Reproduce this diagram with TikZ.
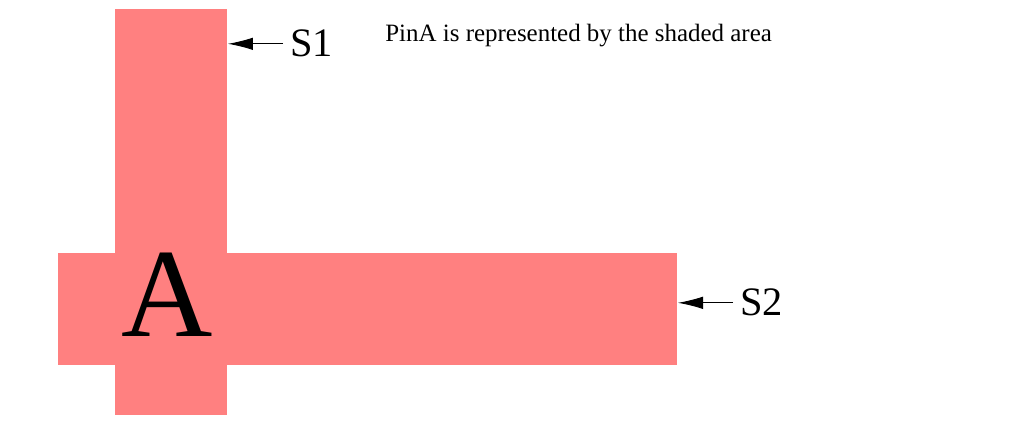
\documentclass[tikz,border=0pt]{standalone}
\usepackage{fontspec}
\setmainfont{Liberation Serif}
\usepackage{xcolor}
\usetikzlibrary{arrows.meta}
\definecolor{pinred}{HTML}{FF8080}

\begin{document}
\begin{tikzpicture}[x=0.02cm, y=-0.02cm,
  pinarea/.style={fill=pinred, draw=none},
  sidelabel/.style={anchor=base west, inner xsep=4pt, inner ysep=0pt, font=\fontsize{23}{27}\selectfont},
  pointer/.style={-{Latex[length=0.5cm, width=0.25cm]}, line width=0.5pt}]
\useasboundingbox (0,0) rectangle (1015,438);

% shaded pin area
\fill[pinarea] (115,9) rectangle (227,415);
\fill[pinarea] (58,253) rectangle (677,365);
\coordinate (vertEdge) at (228,0);
\coordinate (horiEdge) at (678,0);

\node (pinA) [anchor=base, inner sep=0pt, font=\fontsize{72}{80}\selectfont] at (167.5,337) {A};
\node (title) [anchor=base west, inner sep=0pt, font=\fontsize{14.2}{16}\selectfont] at (385,42) {PinA is represented by the shaded area};

\node (S1) [sidelabel] at (283,57) {S1};
\node (S2) [sidelabel] at (733,316) {S2};

\draw[pointer] (S1.west) -- (S1.west -| vertEdge);
\draw[pointer] (S2.west) -- (S2.west -| horiEdge);
\end{tikzpicture}
\end{document}
